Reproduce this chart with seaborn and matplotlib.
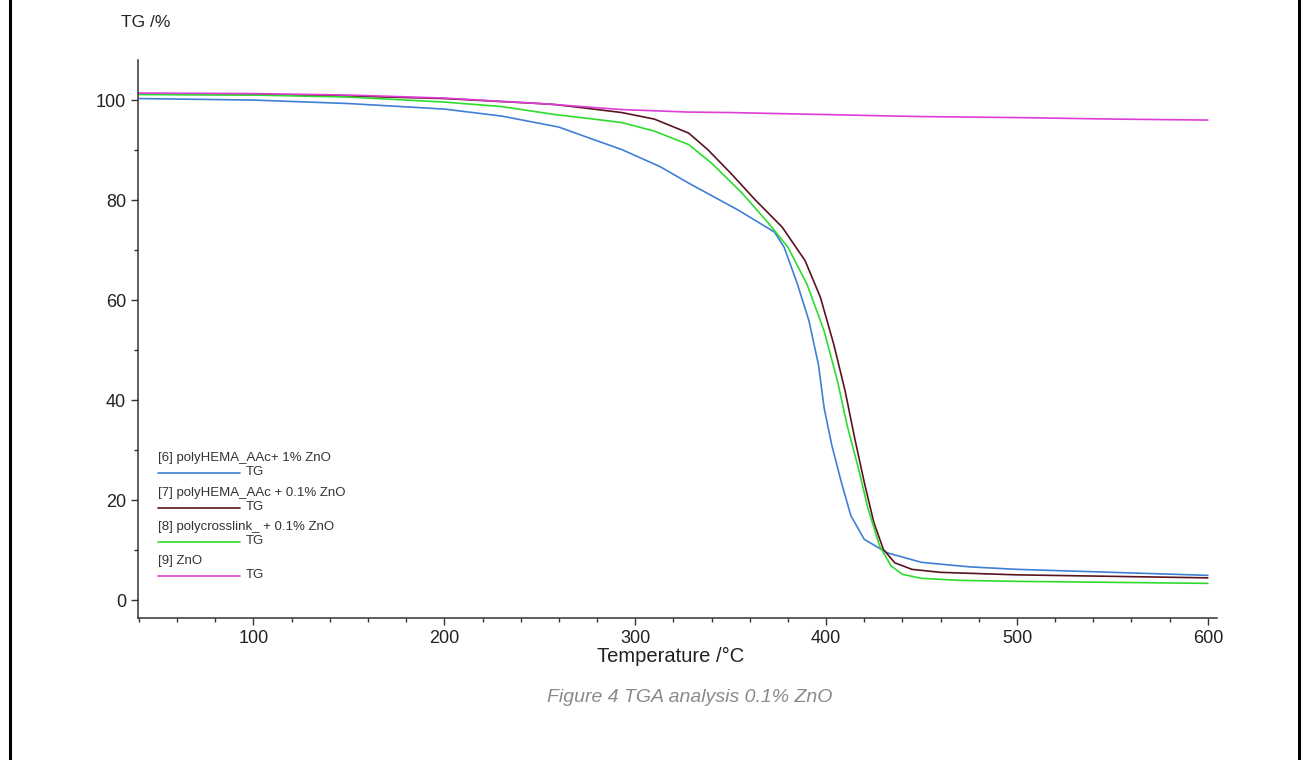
import pandas as pd
import matplotlib.pyplot as plt
from matplotlib.lines import Line2D
from matplotlib.ticker import MultipleLocator
import seaborn as sns

# TGA curves (temperature in degC, mass in %)
t_blue = [40, 100, 150, 200, 230, 260, 276, 293, 313, 328, 354, 373, 378, 385, 391, 396,
          399, 403, 408, 413, 420, 432, 450, 475, 500, 550, 600]
tg_blue = [100.3, 100.0, 99.3, 98.2, 96.8, 94.6, 92.4, 90.1, 86.7, 83.4, 78.0, 73.6, 70.6,
           63.2, 55.9, 47.1, 38.4, 31.0, 23.6, 16.9, 12.2, 9.5, 7.6, 6.7, 6.2, 5.6, 5.0]

t_red = [40, 100, 150, 200, 250, 258, 276, 293, 310, 328, 338, 350, 363, 377, 389, 397,
         404, 410, 415, 420, 425, 430, 436, 445, 460, 500, 550, 600]
tg_red = [101.2, 101.1, 100.8, 100.3, 99.3, 99.1, 98.3, 97.5, 96.2, 93.4, 90.1, 85.4, 80.0,
          74.6, 67.9, 60.6, 51.2, 41.8, 32.4, 23.6, 15.6, 10.2, 7.5, 6.2, 5.6, 5.1, 4.8, 4.5]

t_green = [40, 100, 150, 200, 230, 258, 276, 293, 310, 328, 340, 356, 370, 380, 390, 399,
           406, 411, 417, 422, 428, 434, 440, 450, 470, 500, 550, 600]
tg_green = [101.1, 101.0, 100.6, 99.6, 98.7, 97.1, 96.3, 95.5, 93.8, 91.1, 87.4, 81.4, 75.3,
            70.6, 63.2, 53.8, 43.8, 35.0, 26.3, 18.3, 10.9, 6.9, 5.2, 4.4, 4.0, 3.8, 3.6, 3.4]

t_zno = [40, 100, 150, 200, 250, 258, 293, 328, 350, 400, 436, 450, 500, 550, 600]
tg_zno = [101.4, 101.3, 101.0, 100.4, 99.3, 99.1, 98.1, 97.6, 97.5, 97.1, 96.8, 96.7,
          96.5, 96.2, 96.0]

names = ["[6] polyHEMA_AAc+ 1% ZnO", "[7] polyHEMA_AAc + 0.1% ZnO",
         "[8] polycrosslink_ + 0.1% ZnO", "[9] ZnO"]
colors = ["#3f7fd6", "#5a1420", "#2edc2e", "#dd3fd6"]

frames = []
for name, t, tg in zip(names, [t_blue, t_red, t_green, t_zno],
                       [tg_blue, tg_red, tg_green, tg_zno]):
    frames.append(pd.DataFrame({"T": t, "TG": tg, "sample": name}))
df = pd.concat(frames, ignore_index=True)

sns.set_style("ticks")
plt.rcParams['font.family'] = ['Liberation Sans', 'DejaVu Sans']

fig = plt.figure(figsize=(13.02, 7.6), dpi=100)
ax = fig.add_axes([0.106, 0.187, 0.829, 0.734])

sns.lineplot(data=df, x="T", y="TG", hue="sample", palette=dict(zip(names, colors)),
             estimator=None, linewidth=1.2, legend=False, ax=ax)

ax.set_xlim(39.5, 605)
ax.set_ylim(-3.5, 108)
ax.xaxis.set_major_locator(MultipleLocator(100))
ax.xaxis.set_minor_locator(MultipleLocator(20))
ax.yaxis.set_major_locator(MultipleLocator(20))
ax.yaxis.set_minor_locator(MultipleLocator(10))
ax.set_xticks([100, 200, 300, 400, 500, 600])
ax.tick_params(which='major', length=5, width=1, colors='#333333', labelsize=13,
               labelcolor='#222222')
ax.tick_params(which='minor', length=3, width=1, colors='#333333')
for s in ['top', 'right']:
    ax.spines[s].set_visible(False)
for s in ['left', 'bottom']:
    ax.spines[s].set_color('#333333')
    ax.spines[s].set_linewidth(1.1)

ax.set_xlabel("Temperature /°C", fontsize=14.5, color='#222222')
ax.xaxis.set_label_coords(0.493, -0.052)
ax.set_ylabel("")
fig.text(0.112, 0.971, "TG /%", fontsize=12.5, color='#222222', ha='center', va='center')

# legend block drawn like the instrument software
y0 = 0.286
for i, (name, c) in enumerate(zip(names, colors)):
    y = y0 - i * 0.0615
    ax.text(0.0185, y, name, transform=ax.transAxes, fontsize=9.5, color='#333333',
            va='center', ha='left')
    ax.add_line(Line2D([0.0185, 0.0945], [y - 0.027, y - 0.027], transform=ax.transAxes,
                       color=c, linewidth=1.2))
    ax.text(0.1, y - 0.025, "TG", transform=ax.transAxes, fontsize=9.5, color='#333333',
            va='center', ha='left')

fig.text(0.53, 0.082, "Figure 4 TGA analysis 0.1% ZnO", fontsize=14, style='italic',
         color='#8a8a8a', ha='center', va='center')

# page borders
fig.add_artist(Line2D([0.0075, 0.0075], [0, 1], transform=fig.transFigure, color='black',
                      linewidth=2.2))
fig.add_artist(Line2D([0.9975, 0.9975], [0, 1], transform=fig.transFigure, color='black',
                      linewidth=2.2))

fig.savefig("out.png", dpi=100)
